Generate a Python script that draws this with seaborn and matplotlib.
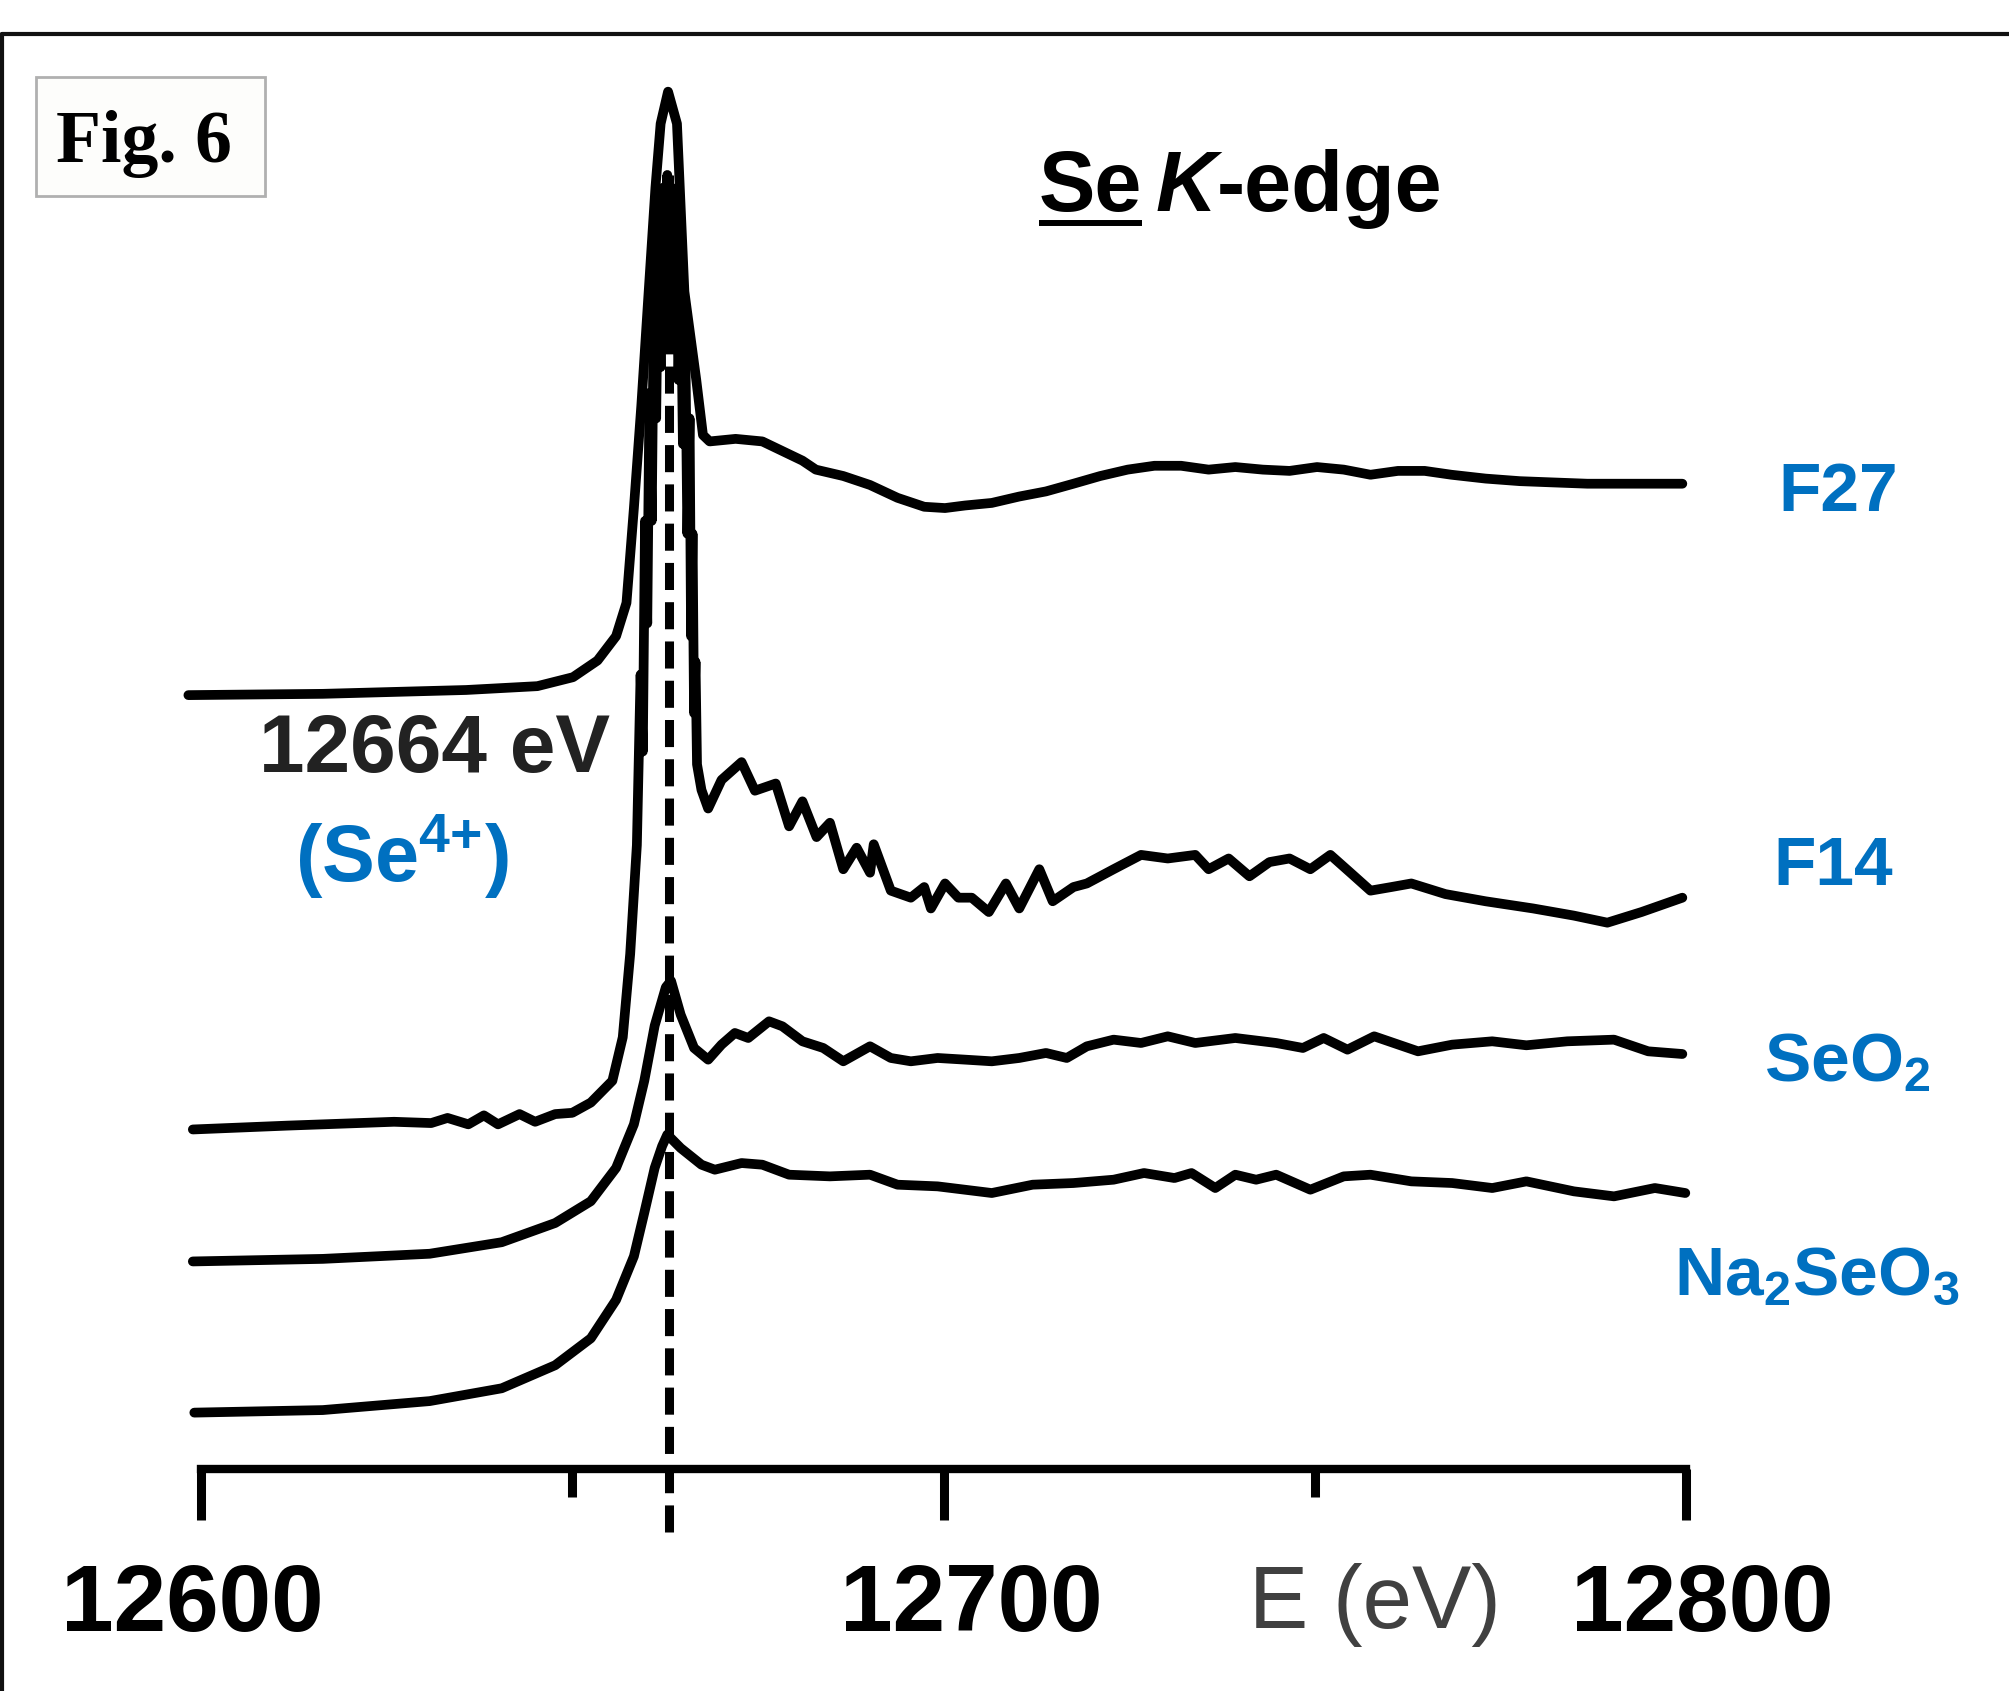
import matplotlib
matplotlib.use("Agg")
import matplotlib.pyplot as plt
import pandas as pd
import seaborn as sns
from matplotlib.lines import Line2D
from matplotlib.patches import Rectangle
from matplotlib.transforms import (IdentityTransform, ScaledTranslation,
                                   blended_transform_factory)

sns.set_theme(style="ticks")
plt.rcParams["font.family"] = ["Liberation Sans", "DejaVu Sans"]
plt.rcParams["text.color"] = "black"
plt.rcParams["mathtext.fontset"] = "custom"
plt.rcParams["mathtext.rm"] = "Liberation Sans:bold"
plt.rcParams["mathtext.it"] = "Liberation Sans:bold:italic"
plt.rcParams["mathtext.bf"] = "Liberation Sans:bold"

BLUE = "#0070C0"

# ---------------------------------------------------------------------
# spectra (energy in eV, stacked normalised absorbance)
# ---------------------------------------------------------------------
F27_E = [12598.3, 12616.4, 12635.7, 12645.3, 12650.1, 12653.4, 12655.9, 12657.3,
         12658.3, 12659.3, 12660.3, 12661.2, 12661.9, 12662.9, 12664.1, 12665.1,
         12666.7, 12667.6, 12668.5, 12672.0, 12675.6, 12677.4, 12681.0, 12682.8,
         12686.5, 12690.1, 12693.8, 12697.4, 12700.2, 12702.9, 12706.5, 12710.2,
         12713.8, 12717.5, 12721.1, 12724.8, 12728.4, 12732.0, 12735.7, 12739.3,
         12743.0, 12746.6, 12750.3, 12753.9, 12757.5, 12761.2, 12764.8, 12768.4,
         12773.0, 12777.6, 12782.1, 12786.7, 12790.3, 12799.5]
F27_MU = [6.04, 6.05, 6.08, 6.11, 6.18, 6.31, 6.50, 6.76,
          7.50, 8.30, 9.20, 10.00, 10.50, 10.75, 10.50, 9.19,
          8.50, 8.07, 8.02, 8.04, 8.02, 7.97, 7.87, 7.80,
          7.75, 7.68, 7.58, 7.51, 7.50, 7.52, 7.54, 7.59,
          7.63, 7.69, 7.75, 7.80, 7.83, 7.83, 7.80, 7.82,
          7.80, 7.79, 7.82, 7.80, 7.76, 7.79, 7.79, 7.76,
          7.73, 7.71, 7.70, 7.69, 7.69, 7.69]

F14_E = [12598.9, 12611.6, 12626.0, 12631.0, 12633.2, 12636.0, 12638.1, 12640.0,
         12642.9, 12645.0, 12647.7, 12650.0, 12652.5, 12655.4, 12656.8, 12657.8,
         12658.7, 12659.2, 12659.5, 12659.8, 12660.1, 12660.4, 12660.7, 12661.0,
         12661.3, 12661.6, 12661.9, 12662.2, 12662.5, 12662.8, 12663.1, 12663.4,
         12663.7, 12664.0, 12664.3, 12664.6, 12664.9, 12665.2, 12665.5, 12665.8,
         12666.0, 12666.2, 12666.4, 12666.6, 12666.8, 12667.4, 12668.3,
         12670.1, 12672.8, 12674.6, 12677.4, 12679.2, 12681.0, 12682.9, 12684.7,
         12686.5, 12688.3, 12690.1, 12690.6, 12692.9, 12695.6, 12697.4, 12698.3,
         12700.2, 12702.0, 12703.8, 12706.1, 12708.4, 12710.2, 12712.9, 12714.7,
         12717.5, 12719.3, 12722.9, 12726.6, 12730.2, 12733.9, 12735.7, 12738.4,
         12741.2, 12743.9, 12746.6, 12749.4, 12752.1, 12754.8, 12757.5, 12760.3,
         12763.0, 12767.6, 12773.0, 12779.4, 12784.9, 12789.4, 12794.0, 12799.5]
F14_MU = [2.65, 2.68, 2.71, 2.70, 2.74, 2.69, 2.76, 2.69,
          2.77, 2.71, 2.77, 2.78, 2.86, 3.03, 3.37, 4.02,
          4.87, 6.20, 5.60, 7.40, 6.60, 8.40, 7.40, 9.20,
          8.20, 9.70, 8.60, 10.00, 8.90, 10.10, 9.00, 10.00,
          8.80, 9.80, 8.50, 9.40, 8.00, 8.90, 7.30, 8.20,
          6.50, 7.30, 5.90, 6.30, 5.50, 5.30, 5.155,
          5.378, 5.517, 5.294, 5.350, 5.016, 5.211, 4.932, 5.044,
          4.681, 4.849, 4.654, 4.876, 4.514, 4.459, 4.542, 4.375,
          4.570, 4.459, 4.459, 4.347, 4.570, 4.375, 4.681, 4.431,
          4.542, 4.570, 4.681, 4.793, 4.765, 4.793, 4.681, 4.765,
          4.626, 4.737, 4.765, 4.681, 4.793, 4.654, 4.514, 4.542,
          4.570, 4.487, 4.431, 4.375, 4.319, 4.264, 4.347, 4.459]

SEO2_E = [12598.9, 12616.4, 12630.8, 12640.5, 12647.7, 12652.5, 12655.9, 12658.3,
          12659.7, 12661.1, 12662.6, 12663.3, 12664.6, 12666.4, 12668.3, 12670.1,
          12671.9, 12673.7, 12676.5, 12678.3, 12681.0, 12683.8, 12686.5, 12690.1,
          12692.9, 12695.6, 12699.2, 12702.9, 12706.5, 12710.2, 12713.8, 12716.6,
          12719.3, 12722.9, 12726.6, 12730.2, 12733.9, 12739.3, 12744.8, 12748.4,
          12751.2, 12754.4, 12758.0, 12763.9, 12768.5, 12773.9, 12778.5, 12784.0,
          12790.3, 12794.9, 12799.5]
SEO2_MU = [1.62, 1.64, 1.68, 1.77, 1.92, 2.09, 2.35, 2.69,
           3.03, 3.46, 3.76, 3.81, 3.546, 3.286, 3.195, 3.312,
           3.403, 3.364, 3.494, 3.455, 3.338, 3.286, 3.182, 3.299,
           3.208, 3.182, 3.208, 3.195, 3.182, 3.208, 3.247, 3.208,
           3.299, 3.351, 3.325, 3.377, 3.325, 3.364, 3.325, 3.286,
           3.364, 3.273, 3.377, 3.260, 3.312, 3.338, 3.307, 3.338,
           3.351, 3.260, 3.239]

NA2SEO3_E = [12599.1, 12616.4, 12630.8, 12640.5, 12647.7, 12652.5, 12655.9, 12658.3,
             12659.7, 12661.1, 12662.1, 12662.8, 12664.6, 12667.4, 12669.2, 12672.8,
             12675.6, 12679.2, 12684.7, 12690.1, 12693.8, 12699.2, 12706.5, 12712.0,
             12717.5, 12722.9, 12727.0, 12731.1, 12733.4, 12736.6, 12739.3, 12742.1,
             12744.8, 12749.4, 12753.9, 12757.5, 12763.0, 12768.5, 12773.9, 12778.5,
             12784.9, 12790.3, 12795.8, 12799.9]
NA2SEO3_MU = [0.44, 0.46, 0.53, 0.63, 0.81, 1.02, 1.32, 1.66,
              2.00, 2.35, 2.52, 2.61, 2.505, 2.375, 2.336, 2.388,
              2.375, 2.297, 2.284, 2.297, 2.219, 2.206, 2.154, 2.219,
              2.232, 2.258, 2.310, 2.271, 2.310, 2.193, 2.297, 2.258,
              2.297, 2.180, 2.284, 2.297, 2.245, 2.232, 2.193, 2.245,
              2.167, 2.128, 2.193, 2.154]

SAMPLES = ["F27", "F14", "SeO2", "Na2SeO3"]
LABELS = ["F27", "F14", r"SeO$_2$", r"Na$_2$SeO$_3$"]
TICKS = [12600, 12700, 12800]
TICK_LABELS = ["12600", "12700", "12800"]
MINOR_TICKS = [12650, 12750]
EDGE_LINE_E = 12663.0
EDGE_TEXT = "12664 eV"

df = pd.concat([
    pd.DataFrame({"energy": e, "mu": m, "sample": s})
    for s, e, m in zip(SAMPLES, [F27_E, F14_E, SEO2_E, NA2SEO3_E],
                       [F27_MU, F14_MU, SEO2_MU, NA2SEO3_MU])
])

fig = plt.figure(figsize=(20.09, 16.91), dpi=100)
ax = fig.add_axes([0.08527, 0.13128, 0.76137, 0.8687])

sns.lineplot(data=df, x="energy", y="mu", units="sample", estimator=None,
             sort=False, color="black", linewidth=7, legend=False, ax=ax,
             solid_joinstyle="round", solid_capstyle="round")

# edge position marker
ax.plot([EDGE_LINE_E, EDGE_LINE_E], [-0.49, 10.1], color="black", lw=6.5,
        ls=(0, (3.0, 1.35)), clip_on=False, zorder=1)

ax.set_xlim(12596, 12802)
ax.set_ylim(0, 11.465)
ax.set_xlabel("")
ax.set_ylabel("")
ax.set_yticks([])
ax.set_xticks(TICKS)
ax.set_xticklabels(TICK_LABELS, fontsize=68, fontweight="bold")
ax.set_xticks(MINOR_TICKS, minor=True)
ax.tick_params(axis="x", which="major", direction="out", length=37, width=6.5,
               pad=30, color="black", labelcolor="black")
ax.tick_params(axis="x", which="minor", direction="out", length=20, width=6.5,
               color="black")
sns.despine(ax=ax, left=True)
ax.spines["bottom"].set_bounds(12600, 12800)
ax.spines["bottom"].set_linewidth(6)
ax.spines["bottom"].set_color("black")

# the tick numbers sit slightly off-centre in the original
for lab, dx in zip(ax.get_xticklabels(), [-6, 20, 12]):
    lab.set_transform(lab.get_transform() + ScaledTranslation(dx / 72, 0, fig.dpi_scale_trans))

ax.text(12758.1, -1.24, "E (eV)", fontsize=64, color="#404040",
        ha="center", va="baseline")

# annotations
ax.text(12631.4, 5.44, EDGE_TEXT, fontsize=59, fontweight="bold", color="#222222",
        ha="center", va="baseline")
ax.text(12627.0, 4.58, r"(Se$^{4{+}}$)", fontsize=57, fontweight="bold", color=BLUE,
        ha="center", va="baseline")

label_pos = [(12812.4, 7.48), (12811.8, 4.56), (12810.5, 3.03), (12798.4, 1.36)]
for lab, (x, y) in zip(LABELS, label_pos):
    ax.text(x, y, lab, fontsize=50, fontweight="bold", color=BLUE,
            ha="left", va="baseline")

# title "Se K-edge" with underlined "Se"
t_se = ax.text(12712.8, 9.82, "Se", fontsize=61, fontweight="bold", color="black",
               ha="left", va="baseline")
t_k = ax.annotate("K", xy=(1, 0), xycoords=t_se, xytext=(10, 0),
                  textcoords="offset points", fontsize=61, fontweight="bold",
                  fontstyle="italic", color="black", ha="left", va="bottom")
ax.annotate("-edge", xy=(1, 0), xycoords=t_k, fontsize=61, fontweight="bold",
            color="black", ha="left", va="bottom")

# "Fig. 6" tag and outer frame
fig.add_artist(Rectangle((0.01792, 0.8841), 0.1140, 0.07037, transform=fig.transFigure,
                         facecolor="#fdfdfb", edgecolor="#b0b0b0", lw=2))
fig.text(0.0717, 0.9042, "Fig. 6", fontsize=53, fontweight="bold", color="black",
         family="Liberation Serif", ha="center", va="baseline")
fig.add_artist(Line2D([0.00124, 1.0], [0.9799, 0.9799], transform=fig.transFigure,
                      color="#111111", lw=3))
fig.add_artist(Line2D([0.00124, 0.00124], [0.0, 0.9799], transform=fig.transFigure,
                      color="#111111", lw=3))

fig.canvas.draw()
bb = t_se.get_window_extent()
trans = blended_transform_factory(IdentityTransform(), ax.transData)
ax.add_line(Line2D([bb.x0, bb.x1], [9.726, 9.726], transform=trans, color="black",
                   lw=4.3, solid_capstyle="butt", clip_on=False))

fig.savefig("out.png", dpi=100, facecolor="white")
